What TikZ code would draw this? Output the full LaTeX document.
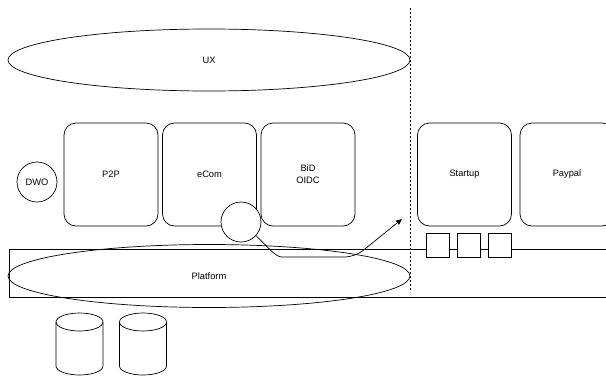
\documentclass[tikz,border=0pt]{standalone}
\usepackage{fontspec}
\setmainfont{Liberation Sans}
\usetikzlibrary{shapes.geometric,arrows.meta}
\begin{document}
\begin{tikzpicture}[x=1pt,y=-1pt,
  every node/.style={font=\fontsize{9.3}{12}\selectfont, inner sep=0pt, line width=0.7pt},
  line width=0.7pt,
  oval/.style={draw, ellipse},
  appbox/.style={draw, rounded corners=12pt, minimum width=94pt, minimum height=103pt, align=center},
  ring/.style={draw, circle, minimum size=40pt},
  port/.style={draw, minimum width=23pt, minimum height=24pt},
  divider/.style={dash pattern=on 2pt off 2pt, line width=0.6pt},
  link/.style={-{Triangle[length=6pt,width=5pt]}, rounded corners=10pt}
]
\path[use as bounding box] (0,0) rectangle (606,378);
\clip (0,0) rectangle (606,378);

% Platform band
\node[draw, anchor=north west, minimum width=610pt, minimum height=48pt] (band) at (9,249) {};
\node[oval, minimum width=402pt, minimum height=63pt] (platform) at (209,276) {Platform};

% UX
\node[oval, minimum width=402pt, minimum height=62pt] (ux) at (209,60) {UX};

% divider
\coordinate (dtop) at (410,8);
\coordinate (dbot) at (410,292);
\draw[divider] (dtop) -- (dbot);

% boxes
\node[appbox] (p2p) at (111,174.5) {P2P};
\node[appbox] (ecom) at (209.5,174.5) {eCom};
\node[appbox] (bid) at (308,174.5) {BiD\\OIDC};
\node[appbox] (startup) at (464.5,174.5) {Startup};
\node[appbox] (paypal) at (567,174.5) {Paypal};

\node[ring] (dwo) at (37,182) {DWO};
\node[ring, fill=white] (hub) at (241,222) {};

% ports
\node[port, fill=white] (q1) at (437.5,245) {};
\node[port, fill=white] (q2) at (469,245) {};
\node[port, fill=white] (q3) at (500,245) {};

% connector
\coordinate (tip) at (402,219);
\draw[link] (hub.-42) to[out=-45,in=180] (292,257) -- (355,257) -- (tip);

% databases
\foreach \cx/\nm in {79.5/db1, 143/db2}{
  \coordinate (\nm) at (\cx,344);
  \draw (\cx-23.5,322) -- (\cx-23.5,366)
        arc[start angle=180, end angle=360, x radius=23.5pt, y radius=9pt]
        -- (\cx+23.5,322);
  \draw (\cx,322) ellipse [x radius=23.5pt, y radius=9pt];
}
\end{tikzpicture}
\end{document}
